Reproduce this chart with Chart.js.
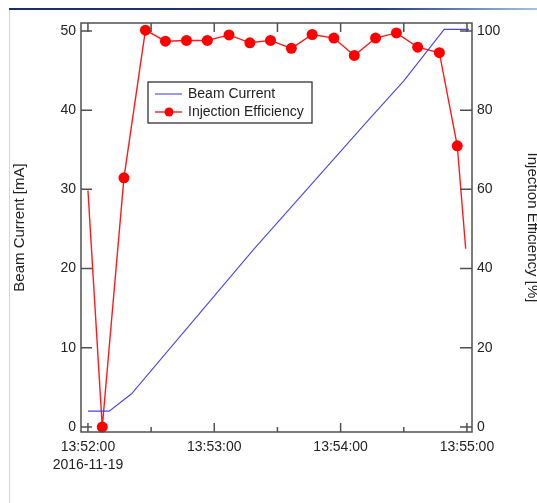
<!DOCTYPE html>
<html>
<head>
<meta charset="utf-8">
<title>Beam Current / Injection Efficiency</title>
<script src="https://cdn.jsdelivr.net/npm/chart.js@4.4.0/dist/chart.umd.min.js"></script>
<style>
	html, body { margin: 0; padding: 0; background: #fff; overflow: hidden; }
	#frame { position: relative; width: 537px; height: 503px; overflow: hidden; }
	#chart { position: absolute; left: 0; top: 0; }
	#title-bar { position: absolute; left: 9px; top: 8px; width: 528px; height: 2px; background: linear-gradient(to right, #1b2c69 0%, #24397a 70%, #a8c2de 100%); }
	#side-line { position: absolute; left: 9px; top: 10px; width: 1px; height: 493px; background: #d6d6d6; }
</style>
</head>
<body>
<div id="frame">
	<canvas id="chart" width="545" height="503"></canvas>
	<div id="title-bar"></div>
	<div id="side-line"></div>
</div>
<script>
// x values are seconds after 13:52:00 (2016-11-19)
var beamSeconds = [0, 10.1, 20.7, 78.3, 132, 150, 169.2, 181];
var beamCurrent = [2.0, 2.0, 4.2, 22.3, 38.4, 43.7, 50.2, 50.2];

var effSeconds = [0, 6.8, 17.1, 27.3, 36.8, 46.8, 56.7, 67, 76.9, 86.7, 96.6, 106.5, 116.8, 126.5, 136.6, 146.5, 156.6, 166.9, 175.4, 179.4];
var effValues = [59.7, 0, 62.9, 100.2, 97.4, 97.6, 97.6, 99.0, 97.0, 97.6, 95.6, 99.1, 98.2, 93.8, 98.2, 99.5, 95.9, 94.5, 71.0, 45.0];

var timeTicks = [0, 60, 120, 180];
var timeMinorTicks = [30, 90, 150];
var timeLabels = ["13:52:00", "13:53:00", "13:54:00", "13:55:00"];
var dateLabel = "2016-11-19";

var currentTicks = [0, 10, 20, 30, 40, 50];
var effTicks = [0, 20, 40, 60, 80, 100];

var BLUE = "#4646e6";
var RED = "#ff1a1a";
var AXIS = "#505050";

Chart.defaults.font.family = "'Liberation Sans', Arial, sans-serif";
Chart.defaults.font.size = 14;
Chart.defaults.color = "#222222";

function toPoints(xs, ys) {
	var pts = [];
	for (var i = 0; i < xs.length; i++) {
		pts.push({ x: xs[i], y: ys[i] });
	}
	return pts;
}

function fixedTicks(values) {
	return function(axis) {
		axis.ticks = values.map(function(v) { return { value: v }; });
	};
}

// plot frame, inward tick marks and the boxed legend
var igorFrame = {
	id: "igorFrame",
	afterDraw: function(chart) {
		var ctx = chart.ctx;
		var area = chart.chartArea;
		var sx = chart.scales.x, sy = chart.scales.y, sy2 = chart.scales.y2;

		ctx.save();
		ctx.strokeStyle = AXIS;
		ctx.lineWidth = 1.5;
		ctx.strokeRect(area.left, area.top, area.right - area.left, area.bottom - area.top);

		ctx.beginPath();
		currentTicks.forEach(function(v) {
			var py = sy.getPixelForValue(v);
			ctx.moveTo(area.left, py);
			ctx.lineTo(area.left + 11, py);
		});
		effTicks.forEach(function(v) {
			var py = sy2.getPixelForValue(v);
			ctx.moveTo(area.right, py);
			ctx.lineTo(area.right - 12, py);
		});
		timeTicks.forEach(function(v) {
			var px = sx.getPixelForValue(v);
			ctx.moveTo(px, area.bottom);
			ctx.lineTo(px, area.bottom - 9);
			ctx.moveTo(px, area.top);
			ctx.lineTo(px, area.top + 9);
		});
		timeMinorTicks.forEach(function(v) {
			var px = sx.getPixelForValue(v);
			ctx.moveTo(px, area.bottom);
			ctx.lineTo(px, area.bottom - 5);
			ctx.moveTo(px, area.top);
			ctx.lineTo(px, area.top + 9);
		});
		ctx.stroke();

		// legend
		var lx = area.left + 67, ly = area.top + 59, lw = 164, lh = 41;
		ctx.fillStyle = "#ffffff";
		ctx.fillRect(lx, ly, lw, lh);
		ctx.strokeStyle = "#333333";
		ctx.lineWidth = 1.3;
		ctx.strokeRect(lx, ly, lw, lh);

		ctx.font = "14px 'Liberation Sans', Arial, sans-serif";
		ctx.textBaseline = "middle";
		ctx.textAlign = "left";
		chart.data.datasets.forEach(function(ds, i) {
			var cy = ly + 12 + i * 18;
			ctx.strokeStyle = ds.borderColor;
			ctx.lineWidth = ds.borderWidth;
			ctx.beginPath();
			ctx.moveTo(lx + 7, cy);
			ctx.lineTo(lx + 34, cy);
			ctx.stroke();
			if (ds.legendMarker) {
				ctx.fillStyle = ds.pointBackgroundColor;
				ctx.beginPath();
				ctx.arc(lx + 21, cy, 4.5, 0, Math.PI * 2);
				ctx.fill();
			}
			ctx.fillStyle = "#222222";
			ctx.fillText(ds.label, lx + 40, cy + 0.5);
		});
		ctx.restore();
	}
};

new Chart(document.getElementById("chart"), {
	type: "line",
	data: {
		datasets: [{
			label: "Beam Current",
			data: toPoints(beamSeconds, beamCurrent),
			yAxisID: "y",
			borderColor: BLUE,
			borderWidth: 1.1,
			pointRadius: 0,
			tension: 0
		}, {
			label: "Injection Efficiency",
			data: toPoints(effSeconds, effValues),
			yAxisID: "y2",
			borderColor: RED,
			borderWidth: 1.4,
			pointBackgroundColor: "#ff0000",
			pointBorderWidth: 0,
			pointRadius: function(c) {
				return (c.dataIndex === 0 || c.dataIndex === effValues.length - 1) ? 0 : 5.5;
			},
			legendMarker: true,
			clip: false,
			tension: 0
		}]
	},
	options: {
		responsive: false,
		animation: false,
		devicePixelRatio: 1,
		layout: { padding: { top: 23, left: 0, right: 0, bottom: 0 } },
		plugins: {
			legend: { display: false },
			tooltip: { enabled: false }
		},
		scales: {
			x: {
				type: "linear",
				position: "bottom",
				min: -3.3,
				max: 182.4,
				grid: { display: false, drawTicks: false },
				border: { display: false },
				afterBuildTicks: fixedTicks(timeTicks),
				afterFit: function(s) { s.height = 71; },
				ticks: {
					padding: 6,
					maxRotation: 0,
					autoSkip: false,
					font: { size: 14, lineHeight: 1.3 },
					callback: function(value) {
						var i = timeTicks.indexOf(value);
						return i === 0 ? [timeLabels[0], dateLabel] : timeLabels[i];
					}
				}
			},
			y: {
				position: "left",
				min: -0.63,
				max: 51.0,
				grid: { display: false, drawTicks: false },
				border: { display: false },
				afterBuildTicks: fixedTicks(currentTicks),
				afterFit: function(s) { s.width = 81; },
				ticks: { padding: 5 },
				title: {
					display: true,
					text: "Beam Current [mA]",
					padding: { top: 11, bottom: 0 },
					font: { size: 15 }
				}
			},
			y2: {
				position: "right",
				min: -1.26,
				max: 102.0,
				grid: { display: false, drawTicks: false },
				border: { display: false },
				afterBuildTicks: fixedTicks(effTicks),
				afterFit: function(s) { s.width = 73; },
				ticks: { padding: 5 },
				title: {
					display: true,
					text: "Injection Efficiency [%]",
					padding: { top: 4, bottom: 0 },
					font: { size: 15 }
				}
			}
		}
	},
	plugins: [igorFrame]
});
</script>
</body>
</html>
